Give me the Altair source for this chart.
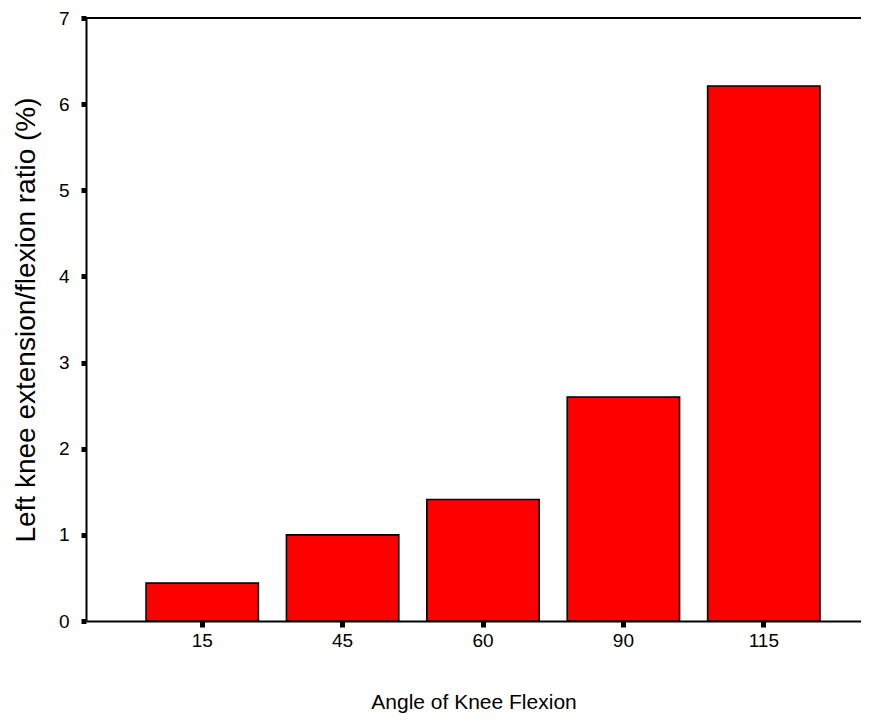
import altair as alt
import pandas as pd

angles = ["15", "45", "60", "90", "115"]
ratios = [0.44, 1.0, 1.41, 2.6, 6.21]
y_ticks = [0, 1, 2, 3, 4, 5, 6, 7]

df = pd.DataFrame({"angle": angles, "ratio": ratios})

FONT = "Liberation Sans"

y_axis = alt.Axis(
    title="Left knee extension/flexion ratio (%)",
    values=y_ticks,
    format="d",
    grid=False,
    labelFontSize=19,
    labelFont=FONT,
    labelColor="black",
    labelPadding=12,
    titleFontSize=28,
    titleFont=FONT,
    titleFontWeight="normal",
    titleColor="black",
    titlePadding=18,
    domainColor="black",
    domainWidth=2,
    tickColor="black",
    tickWidth=5,
    tickSize=5,
)
y_scale = alt.Scale(domain=[0, 7], nice=False)

bars = alt.Chart(df).mark_bar(color="#FF0000", stroke="black", strokeWidth=1.6).encode(
    x=alt.X(
        "angle:N",
        sort=angles,
        scale=alt.Scale(paddingInner=0.2, paddingOuter=0.36, align=0.594),
        axis=alt.Axis(
            title="Angle of Knee Flexion",
            labelAngle=0,
            labelFontSize=19,
            labelFont=FONT,
            labelColor="black",
            labelPadding=4,
            titleFontSize=21,
            titleFont=FONT,
            titleFontWeight="normal",
            titleColor="black",
            titlePadding=41,
            domainColor="black",
            domainWidth=2,
            tickColor="black",
            tickWidth=5,
            tickSize=6,
        ),
    ),
    y=alt.Y("ratio:Q", scale=y_scale, axis=y_axis),
)

top_line = alt.Chart(pd.DataFrame({"v": [7]})).mark_rule(color="black", strokeWidth=2).encode(
    y=alt.Y("v:Q", scale=y_scale, axis=y_axis)
)

chart = (
    alt.layer(bars, top_line)
    .properties(
        width=775,
        height=603,
        autosize=alt.AutoSizeParams(type="none"),
        padding={"left": 78, "top": 10, "right": 0, "bottom": 98},
    )
    .configure_view(stroke=None)
    .configure(background="white")
)

chart.save("out.html", embed_options={"renderer": "svg", "actions": False})
